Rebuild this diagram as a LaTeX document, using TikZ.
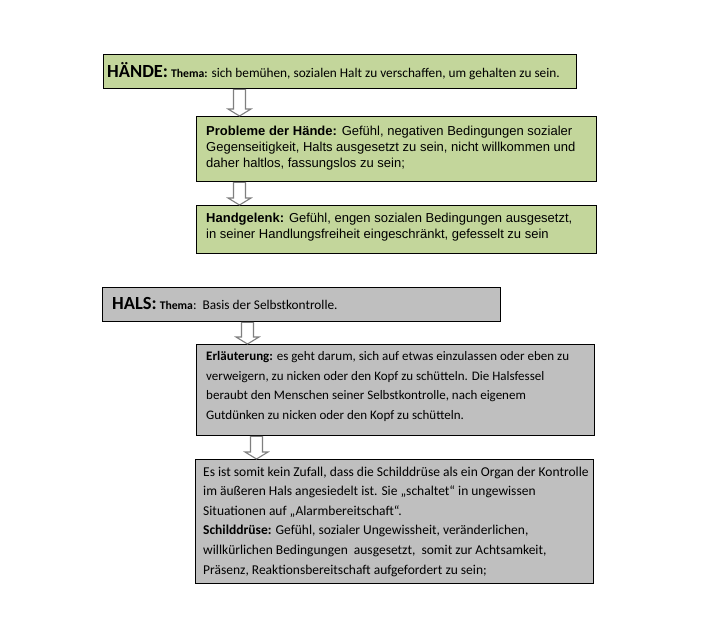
\documentclass[tikz,border=0pt]{standalone}
\usepackage{fontspec}
\setmainfont{Carlito}
\newfontfamily\arialfont{Liberation Sans}
\usetikzlibrary{calc}

\definecolor{handgreen}{HTML}{C3D69B}
\definecolor{halsgray}{HTML}{BFBFBF}
\definecolor{arrowgray}{HTML}{7F7F7F}

% hollow block arrow: #1 top middle, #2 gives the y of the tip
\newcommand{\hollowarrow}[2]{%
  \draw[blockarrow] let \p1=(#1), \p2=(#2) in
    (\x1-6pt,\y1) -- (\x1+6pt,\y1) -- (\x1+6pt,\y2+7pt) -- (\x1+11.5pt,\y2+7pt)
    -- (\x1,\y2) -- (\x1-11.5pt,\y2+7pt) -- (\x1-6pt,\y2+7pt) -- cycle;}

\begin{document}
\begin{tikzpicture}[x=1pt, y=-1pt,
  greenbox/.style={draw=black, line width=1.3pt, fill=handgreen, anchor=north west, inner sep=0pt},
  graybox/.style={draw=black, line width=1.3pt, fill=halsgray, anchor=north west, inner sep=0pt},
  boxtext/.style={anchor=base west, inner sep=0pt, align=left},
  ariltext/.style={boxtext, font=\arialfont\fontsize{13}{16}\selectfont},
  blockarrow/.style={draw=arrowgray, line width=1.1pt, fill=white}]
\useasboundingbox (0,0) rectangle (708,643);
% Haende (base = last line)
\node[greenbox, minimum width=473, minimum height=34] (haende) at (103,54) {};
\node[boxtext, font=\fontsize{13.3}{15}\selectfont] (haendetxt) at (107,77)
  {{\fontsize{18.5}{20}\selectfont\bfseries HÄNDE:} {\fontsize{11.7}{13}\selectfont\bfseries Thema:} sich bemühen, sozialen Halt zu verschaffen, um gehalten zu sein.};
\node[greenbox, minimum width=400, minimum height=65] (probleme) at (196,116) {};
\node[ariltext] (problemetxt) at (206,167)
  {\textbf{Probleme der Hände:} Gefühl, negativen Bedingungen sozialer\\
   Gegenseitigkeit, Halts ausgesetzt zu sein, nicht willkommen und\\
   daher haltlos, fassungslos zu sein;};
\node[greenbox, minimum width=400, minimum height=48] (gelenk) at (196,205) {};
\node[ariltext] (gelenktxt) at (206,238)
  {\textbf{Handgelenk:} Gefühl, engen sozialen Bedingungen ausgesetzt,\\
   in seiner Handlungsfreiheit eingeschränkt, gefesselt zu sein};
% Hals
\node[graybox, minimum width=398, minimum height=34] (hals) at (102,287) {};
\node[boxtext, font=\fontsize{13.3}{15}\selectfont] (halstxt) at (112,309)
  {{\fontsize{18.5}{20}\selectfont\bfseries HALS:} {\fontsize{11.7}{13}\selectfont\bfseries Thema}:\ \ Basis der Selbstkontrolle.};
\node[graybox, minimum width=398, minimum height=91] (erlaeut) at (196,344) {};
\node[boxtext, font=\fontsize{13}{19.5}\selectfont] (erlaeuttxt) at (206,419)
  {\textbf{Erläuterung:} es geht darum, sich auf etwas einzulassen oder eben zu\\
   verweigern, zu nicken oder den Kopf zu schütteln. Die Halsfessel\\
   beraubt den Menschen seiner Selbstkontrolle, nach eigenem\\
   Gutdünken zu nicken oder den Kopf zu schütteln.};
\node[graybox, minimum width=398, minimum height=124] (schild) at (195,459) {};
\node[boxtext, font=\fontsize{13.5}{19.6}\selectfont] (schildtxt) at (203,574)
  {Es ist somit kein Zufall, dass die Schilddrüse als ein Organ der Kontrolle\\
   im äußeren Hals angesiedelt ist. Sie „schaltet“ in ungewissen\\
   Situationen auf „Alarmbereitschaft“.\\
   \textbf{Schilddrüse:} Gefühl, sozialer Ungewissheit, veränderlichen,\\
   willkürlichen Bedingungen\ \ ausgesetzt,\ \ somit zur Achtsamkeit,\\
   Präsenz, Reaktionsbereitschaft aufgefordert zu sein;};
% Pfeile
\hollowarrow{$(haende.south west)+(136.5,0)$}{probleme.north}
\hollowarrow{$(probleme.south west)+(43.5,0)$}{gelenk.north}
\hollowarrow{$(hals.south west)+(145.5,0)$}{erlaeut.north}
\hollowarrow{$(erlaeut.south west)+(60.5,0)$}{schild.north}
\end{tikzpicture}
\end{document}
